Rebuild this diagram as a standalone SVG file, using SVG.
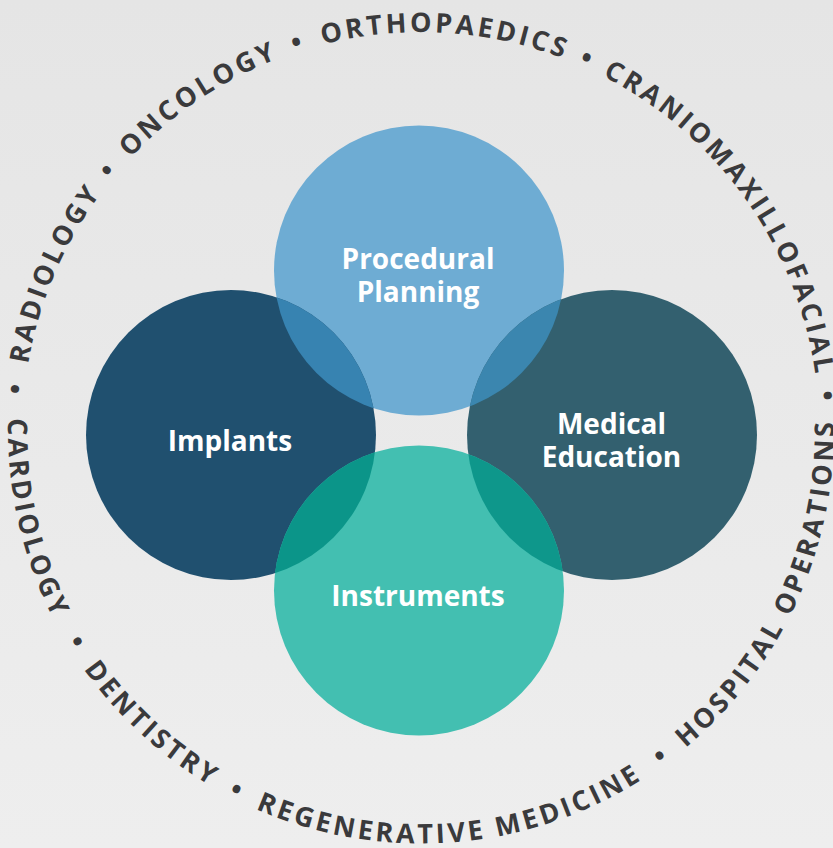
<svg xmlns="http://www.w3.org/2000/svg" xmlns:xlink="http://www.w3.org/1999/xlink" width="833" height="848" viewBox="0 0 833 848">
  <style>
    .ring { font-family: "Open Sans", "Noto Sans", "DejaVu Sans", sans-serif; font-weight: 700; font-size: 27px; letter-spacing: 3.2px; fill: #3a3a3c; }
    .label { font-family: "Open Sans", "Noto Sans", "DejaVu Sans", sans-serif; font-weight: 700; font-size: 28px; fill: #ffffff; text-anchor: middle; }
  </style>
  <defs>
    <linearGradient id="bg" x1="0" y1="0" x2="0" y2="1">
      <stop offset="0" stop-color="#e5e5e5"/>
      <stop offset="1" stop-color="#eeeeee"/>
    </linearGradient>
    <circle id="cP" cx="419" cy="270.5" r="145"/>
    <circle id="cI" cx="231" cy="435" r="145"/>
    <circle id="cM" cx="612" cy="435" r="145"/>
    <circle id="cN" cx="419" cy="590.5" r="145"/>
    <clipPath id="clipI"><use xlink:href="#cI"/></clipPath>
    <clipPath id="clipM"><use xlink:href="#cM"/></clipPath>
    <path id="arcTop" d="M421,828.9 A398.4,398.4 0 1 1 421,32.1 A398.4,398.4 0 1 1 421,828.9"/>
    <path id="arcBot" d="M421,17.5 A413,413 0 1 0 421,843.5 A413,413 0 1 0 421,17.5"/>
  </defs>

  <rect x="0" y="0" width="833" height="848" fill="url(#bg)"/>

  <g id="ring-text" class="ring" text-anchor="middle">
    <text><textPath xlink:href="#arcTop" startOffset="26.69%">•</textPath></text>
    <text><textPath xlink:href="#arcTop" startOffset="31.44%">RADIOLOGY</textPath></text>
    <text><textPath xlink:href="#arcTop" startOffset="36.08%">•</textPath></text>
    <text><textPath xlink:href="#arcTop" startOffset="40.60%">ONCOLOGY</textPath></text>
    <text><textPath xlink:href="#arcTop" startOffset="45.11%">•</textPath></text>
    <text><textPath xlink:href="#arcTop" startOffset="50.97%">ORTHOPAEDICS</textPath></text>
    <text><textPath xlink:href="#arcTop" startOffset="56.72%">•</textPath></text>
    <text><textPath xlink:href="#arcTop" startOffset="65.19%">CRANIOMAXILLOFACIAL</textPath></text>
    <text><textPath xlink:href="#arcTop" startOffset="73.69%">•</textPath></text>
    <text><textPath xlink:href="#arcBot" startOffset="28.56%">CARDIOLOGY</textPath></text>
    <text><textPath xlink:href="#arcBot" startOffset="33.83%">•</textPath></text>
    <text><textPath xlink:href="#arcBot" startOffset="38.18%">DENTISTRY</textPath></text>
    <text><textPath xlink:href="#arcBot" startOffset="42.50%">•</textPath></text>
    <text><textPath xlink:href="#arcBot" startOffset="51.25%">REGENERATIVE MEDICINE</textPath></text>
    <text><textPath xlink:href="#arcBot" startOffset="60.14%">•</textPath></text>
    <text><textPath xlink:href="#arcBot" startOffset="68.25%">HOSPITAL OPERATIONS</textPath></text>
  </g>

  <g id="node-procedural-planning">
    <use xlink:href="#cP" fill="#6eacd3"/>
  </g>
  <g id="node-implants">
    <use xlink:href="#cI" fill="#20506f"/>
  </g>
  <g id="node-medical-education">
    <use xlink:href="#cM" fill="#33606f"/>
  </g>
  <g id="node-instruments">
    <use xlink:href="#cN" fill="#43bfb1"/>
  </g>

  <g id="overlaps">
    <use xlink:href="#cP" fill="#3783b1" clip-path="url(#clipI)"/>
    <use xlink:href="#cP" fill="#3b86af" clip-path="url(#clipM)"/>
    <use xlink:href="#cN" fill="#0b9589" clip-path="url(#clipI)"/>
    <use xlink:href="#cN" fill="#0e978b" clip-path="url(#clipM)"/>
  </g>

  <g id="labels" class="label">
    <text x="418" y="268.7">Procedural</text>
    <text x="418" y="301.7">Planning</text>
    <text x="230" y="450.5">Implants</text>
    <text x="611.5" y="434.3">Medical</text>
    <text x="611.5" y="467.3">Education</text>
    <text x="418" y="605.7">Instruments</text>
  </g>
</svg>
